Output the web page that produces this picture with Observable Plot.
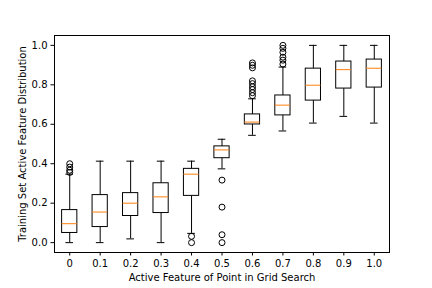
<!DOCTYPE html>
<html>
<head>
<meta charset="utf-8">
<script src="https://cdn.jsdelivr.net/npm/d3@7"></script>
<script src="https://cdn.jsdelivr.net/npm/@observablehq/plot@0.6"></script>
<style>
  html, body { margin: 0; padding: 0; background: #fff; }
</style>
</head>
<body>
<div id="chart"></div>
<script>
const tickLabels = ["0", "0.1", "0.2", "0.3", "0.4", "0.5", "0.6", "0.7", "0.8", "0.9", "1.0"];
const whiskerLow  = [0.000, 0.000, 0.019, 0.000, 0.047, 0.374, 0.544, 0.566, 0.606, 0.640, 0.606];
const q1          = [0.049, 0.079, 0.135, 0.150, 0.237, 0.428, 0.599, 0.645, 0.720, 0.781, 0.786];
const median      = [0.096, 0.155, 0.200, 0.232, 0.347, 0.470, 0.611, 0.697, 0.798, 0.877, 0.884];
const q3          = [0.165, 0.241, 0.251, 0.301, 0.374, 0.488, 0.650, 0.746, 0.882, 0.918, 0.928];
const whiskerHigh = [0.347, 0.413, 0.413, 0.413, 0.413, 0.524, 0.729, 0.890, 1.000, 1.000, 1.000];

const outlierGroup = [0, 0, 0, 0,
                      4, 4,
                      5, 5, 5, 5,
                      6, 6, 6, 6, 6, 6, 6, 6, 6,
                      7, 7, 7, 7, 7, 7];
const outlierValue = [0.400, 0.383, 0.367, 0.356,
                      0.032, 0.000,
                      0.317, 0.180, 0.040, 0.000,
                      0.911, 0.899, 0.886, 0.820, 0.806, 0.790, 0.776, 0.760, 0.745,
                      1.000, 0.985, 0.965, 0.940, 0.925, 0.905];

const xLabel = "Active Feature of Point in Grid Search";
const yLabel = "Training Set Active Feature Distribution";

const boxes = tickLabels.map((label, i) => ({
  pos: i + 1, label,
  lo: whiskerLow[i], q1: q1[i], med: median[i], q3: q3[i], hi: whiskerHigh[i]
}));
const outliers = outlierGroup.map((g, i) => ({pos: g + 1, v: outlierValue[i]}));

const boxHalf = 0.25, capHalf = 0.125;

const chart = Plot.plot({
  width: 432,
  height: 288,
  marginLeft: 54,
  marginRight: 43,
  marginTop: 35,
  marginBottom: 36,
  style: {fontFamily: "'DejaVu Sans', sans-serif", fontSize: "10px", color: "#000", background: "#fff"},
  x: {domain: [0.5, 11.5]},
  y: {domain: [-0.05, 1.05]},
  marks: [
    Plot.ruleX(boxes, {x: "pos", y1: "lo", y2: "q1", stroke: "#000", strokeWidth: 1}),
    Plot.ruleX(boxes, {x: "pos", y1: "q3", y2: "hi", stroke: "#000", strokeWidth: 1}),
    Plot.ruleY(boxes, {y: "lo", x1: d => d.pos - capHalf, x2: d => d.pos + capHalf, stroke: "#000", strokeWidth: 1}),
    Plot.ruleY(boxes, {y: "hi", x1: d => d.pos - capHalf, x2: d => d.pos + capHalf, stroke: "#000", strokeWidth: 1}),
    Plot.rect(boxes, {x1: d => d.pos - boxHalf, x2: d => d.pos + boxHalf, y1: "q1", y2: "q3", fill: "none", stroke: "#000", strokeWidth: 1}),
    Plot.ruleY(boxes, {y: "med", x1: d => d.pos - boxHalf, x2: d => d.pos + boxHalf, stroke: "#ff7f0e", strokeWidth: 1}),
    Plot.dot(outliers, {x: "pos", y: "v", r: 3, stroke: "#000", fill: "none", strokeWidth: 1}),
    Plot.axisX(boxes.map(d => d.pos), {tickFormat: p => tickLabels[p - 1], tickSize: 3.5, tickPadding: 3.5, label: null, fontSize: 10}),
    Plot.axisY([0, 0.2, 0.4, 0.6, 0.8, 1.0], {tickFormat: d3.format(".1f"), tickSize: 3.5, tickPadding: 3.5, label: null, fontSize: 10}),
    Plot.frame({stroke: "#000", strokeWidth: 1}),
    Plot.text([xLabel], {frameAnchor: "bottom", dy: 25, textAnchor: "middle", lineAnchor: "middle", fontSize: 10, fill: "#000"}),
    Plot.text([yLabel], {frameAnchor: "left", rotate: -90, dx: -32, textAnchor: "middle", lineAnchor: "middle", fontSize: 10, fill: "#000"})
  ]
});
document.getElementById("chart").appendChild(chart);
</script>
</body>
</html>
